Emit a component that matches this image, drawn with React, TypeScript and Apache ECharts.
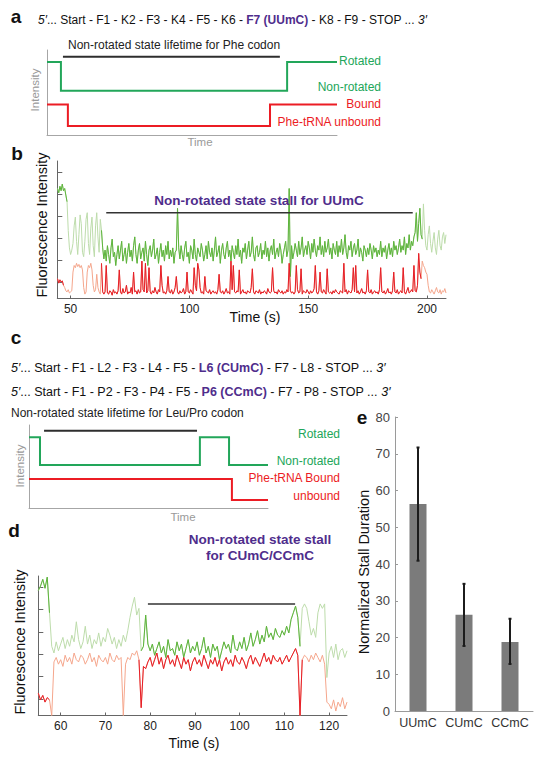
import React, { useEffect, useRef } from "react";
import * as echarts from "echarts";

const FONT = "'Liberation Sans', Arial, Helvetica, sans-serif";
const PURPLE = "#4f2d8c";
const GREEN_S = "#22a65a";
const RED_S = "#ec1c24";
const DG = "#5db43c";
const LG = "#bddcab";
const DR = "#e61e28";
const LR = "#f5a68c";

// ---------- panel a schematic ----------
const aRotX = [0, 4.8, 4.8, 82.8, 82.8, 100];
const aRotY = [86, 86, 52, 52, 86, 86];
const aBoundX = [0, 7.2, 7.2, 76.9, 76.9, 100];
const aBoundY = [36, 36, 10.6, 10.6, 36, 36];
const aLifeX = [5.5, 80.3];
const aLifeY = [92, 92];

// ---------- panel b trace (t from 44.5 s, step 0.5 s) ----------
const bT0 = 44.5;
const bDt = 0.5;
const bGreen = [
  5.0, 4.8, 5.1, 4.9, 5.2, 4.9, 5.0, 4.7, 4.4, 3.1,
  2.3, 2.0, 2.2, 2.5, 3.3, 3.7, 2.6, 2.0, 2.9, 3.8,
  3.4, 2.1, 1.9, 2.6, 3.6, 3.9, 2.5, 2.0, 3.2, 3.7,
  2.4, 1.9, 3.3, 3.9, 2.8, 2.1, 3.6, 3.1, 2.3, 1.8,
  2.2, 1.7, 2.4, 2.0, 1.6, 2.3, 2.7, 1.9, 2.1, 1.5,
  2.0, 2.4, 1.8, 2.2, 2.6, 1.7, 2.0, 2.3, 1.6, 2.1,
  2.5, 1.9, 2.2, 1.7, 2.4, 2.8, 2.0, 1.6, 2.2, 2.5,
  1.8, 2.1, 2.3, 1.7, 2.6, 2.0, 1.5, 2.2, 2.4, 1.9,
  2.2, 2.7, 1.8, 2.0, 2.3, 1.6, 2.1, 2.5, 1.9, 2.2,
  1.7, 2.4, 2.0, 2.6, 1.8, 2.2, 1.9, 2.3, 1.6, 2.1,
  2.2, 4.1, 2.3, 1.8, 2.4, 2.0, 1.7, 2.3, 2.6, 1.9,
  2.1, 1.6, 2.4, 2.2, 1.8, 2.7, 2.0, 1.7, 2.3, 2.1,
  1.9, 2.5, 2.2, 1.7, 2.0, 2.4, 1.8, 2.6, 2.1, 1.9,
  2.3, 1.7, 2.2, 2.8, 1.9, 2.1, 2.4, 1.6, 2.2, 2.5,
  2.0, 1.8, 2.3, 2.6, 1.9, 2.2, 1.7, 2.4, 2.1, 1.8,
  2.4, 2.0, 2.7, 1.9, 2.2, 1.6, 2.3, 2.1, 2.5, 1.8,
  2.2, 2.6, 1.9, 2.1, 2.8, 2.0, 1.7, 2.3, 2.4, 1.9,
  2.1, 2.5, 1.8, 2.2, 2.0, 2.6, 1.9, 2.3, 1.7, 2.2,
  2.4, 2.0, 2.7, 1.8, 2.1, 2.3, 1.9, 2.5, 2.2, 1.6,
  2.0, 2.3, 2.6, 1.9, 2.2, 5.0, 1.0, 2.4, 1.8, 2.1,
  2.5, 2.2, 1.9, 2.6, 2.0, 2.3, 2.8, 1.9, 2.2, 2.4,
  2.0, 2.6, 2.3, 1.8, 2.5, 2.1, 2.7, 2.2, 1.9, 2.4,
  2.2, 2.8, 2.0, 2.4, 1.9, 2.6, 2.1, 2.3, 2.7, 2.0,
  2.3, 1.8, 2.5, 2.2, 2.0, 2.6, 1.9, 2.4, 2.1, 2.7,
  2.0, 2.3, 2.9, 2.1, 1.8, 2.4, 2.2, 2.6, 1.9, 2.3,
  2.5, 2.0, 2.2, 2.7, 1.9, 2.3, 2.1, 1.7, 2.4, 2.2,
  1.9, 2.3, 2.0, 2.5, 2.2, 1.8, 2.4, 2.1, 2.3, 1.9,
  2.2, 2.0, 2.6, 1.9, 2.3, 2.1, 2.4, 1.8, 2.2, 2.5,
  2.0, 2.3, 1.9, 2.6, 2.2, 2.4, 2.0, 2.3, 2.7, 2.1,
  2.4, 2.2, 2.8, 2.0, 2.5, 2.3, 2.9, 2.2, 2.6, 2.4,
  2.8, 3.0, 3.9, 2.6, 3.4, 4.1, 2.9, 2.7, 4.3, 3.1,
  2.4, 2.2, 2.9, 3.3, 2.5, 2.1, 2.6, 3.0, 2.3, 2.0,
  2.7, 3.1, 2.4, 2.2, 2.8, 3.0, 2.5, 2.9,
];
const bRed = [
  0.9, 0.7, 0.85, 0.75, 0.8, 0.6, 0.5, 0.35, 0.3, 0.4,
  0.25, 0.3, 0.35, 1.2, 1.5, 1.4, 1.6, 1.45, 1.55, 1.4,
  1.5, 1.3, 0.5, 0.2, 0.3, 1.2, 1.5, 1.4, 1.6, 1.3,
  0.6, 0.3, 0.4, 1.1, 0.5, 0.3, 0.2, 1.6, 0.3, 0.2,
  0.3, 1.5, 0.25, 0.2, 0.35, 0.3, 0.15, 0.4, 0.25, 0.3,
  0.2, 0.35, 1.3, 0.3, 0.2, 0.45, 0.25, 0.3, 0.6, 0.2,
  0.3, 0.25, 0.5, 0.2, 1.2, 0.3, 0.35, 0.2, 0.4, 0.25,
  0.3, 1.7, 0.4, 0.3, 1.6, 0.25, 0.35, 1.4, 0.3, 0.2,
  0.35, 0.25, 0.5, 0.3, 0.2, 0.4, 0.3, 1.5, 0.6, 0.25,
  0.3, 0.2, 0.35, 1.0, 0.3, 0.25, 0.4, 0.2, 0.3, 0.5,
  1.0, 0.3, 0.2, 0.35, 0.25, 0.3, 0.45, 0.2, 0.3, 1.2,
  0.3, 0.25, 0.4, 0.3, 0.2, 1.4, 0.6, 0.35, 1.6, 1.3,
  0.5, 0.25, 0.3, 0.2, 1.0, 0.35, 0.3, 0.25, 0.4, 0.2,
  0.3, 0.35, 0.25, 0.3, 0.2, 0.4, 1.1, 0.3, 0.25, 0.35,
  0.2, 0.3, 0.45, 0.25, 0.3, 0.2, 1.7, 0.4, 1.5, 0.3,
  0.25, 0.35, 0.3, 1.3, 0.2, 0.3, 0.4, 0.25, 0.3, 0.2,
  0.35, 0.3, 0.25, 0.5, 1.35, 0.3, 0.2, 0.35, 0.3, 0.25,
  0.4, 0.2, 0.3, 0.25, 0.35, 0.3, 0.2, 0.45, 0.3, 0.25,
  0.3, 1.4, 0.35, 0.25, 0.3, 0.2, 0.4, 0.3, 0.25, 0.35,
  0.2, 0.3, 0.25, 0.4, 0.3, 1.6, 0.35, 0.25, 0.3, 0.2,
  0.3, 1.5, 0.4, 0.25, 0.3, 1.35, 0.2, 0.35, 0.3, 0.25,
  0.4, 0.3, 0.2, 0.35, 0.25, 0.3, 0.45, 1.5, 0.3, 0.2,
  0.35, 1.2, 0.3, 0.25, 0.4, 0.3, 0.2, 1.35, 0.3, 0.25,
  0.3, 0.2, 0.35, 0.25, 0.4, 0.3, 0.25, 0.2, 0.35, 0.3,
  0.25, 1.6, 0.3, 0.4, 0.2, 0.35, 0.3, 0.25, 0.4, 1.4,
  0.3, 1.5, 0.25, 0.35, 0.2, 0.3, 0.45, 0.25, 0.3, 0.2,
  0.35, 1.3, 0.3, 0.25, 0.4, 0.2, 0.3, 0.35, 0.25, 0.3,
  0.2, 0.4, 1.4, 0.3, 0.25, 0.35, 0.2, 0.3, 0.45, 0.25,
  0.3, 0.2, 0.35, 1.2, 0.3, 0.25, 0.4, 0.2, 0.3, 0.35,
  0.25, 1.4, 0.3, 0.2, 0.35, 0.5, 0.25, 0.3, 0.4, 0.3,
  1.5, 0.35, 0.3, 0.6, 2.05, 1.2, 0.9, 1.7, 1.5, 1.4,
  1.2, 1.1, 0.6, 0.3, 0.25, 0.4, 0.3, 0.2, 0.35, 0.5,
  0.3, 0.25, 0.4, 0.2, 0.35, 0.3, 0.45, 0.25,
];
const bGreenDark = [[44.5, 48.5], [63, 198]];
const bRedDark = [[44.5, 47], [63, 197.5]];
const bTimeTicks = [50, 100, 150, 200];
const bStallX = [65, 194];
const bStallY = [3.9, 3.9];

// ---------- panel c schematic ----------
const cRotX = [0, 4.6, 4.6, 71.5, 71.5, 83.7, 83.7, 100];
const cRotY = [85.3, 85.3, 51.8, 51.8, 85.3, 85.3, 51.8, 51.8];
const cBoundX = [0, 84.9, 84.9, 100];
const cBoundY = [34.9, 34.9, 9.6, 9.6];
const cLifeX = [6.3, 70.3];
const cLifeY = [93, 93];

// ---------- panel d trace (t from 55 s, step 0.5 s) ----------
const dT0 = 55;
const dDt = 0.5;
const dGreen = [
  5.6, 5.8, 6.1, 5.7, 6.2, 4.6, 3.1, 2.8, 3.3, 2.9,
  3.2, 3.5, 3.0, 3.4, 3.1, 3.6, 3.3, 4.2, 3.4, 3.0,
  3.3, 4.0, 3.2, 3.6, 3.0, 3.4, 3.2, 3.7, 3.1, 3.5,
  3.3, 3.9, 3.6, 3.2, 3.5, 3.0, 3.4, 3.1, 3.6, 3.3,
  3.8, 4.4, 4.9, 5.3, 4.5, 4.8, 2.9, 3.1, 4.5, 3.2,
  2.9, 3.2, 2.7, 3.0, 3.3, 2.8, 3.1, 2.6, 3.4, 2.9,
  3.0, 2.7, 3.3, 2.9, 3.2, 2.6, 3.0, 3.4, 2.8, 3.1,
  2.9, 3.3, 2.7, 3.0, 3.5, 2.8, 3.1, 2.6, 3.2, 2.9,
  3.1, 2.5, 2.9, 3.3, 3.0, 3.2, 2.8, 3.6, 3.0, 2.9,
  3.3, 3.0, 3.5, 2.9, 3.2, 3.7, 3.1, 3.4, 3.8, 3.2,
  3.6, 3.3, 4.0, 3.5, 3.7, 3.4, 3.9, 3.6, 3.5, 3.8,
  3.6, 4.0, 3.7, 4.3, 4.6, 4.9, 4.4, 3.1, 4.8, 5.0,
  4.8, 4.2, 3.6, 3.9, 3.5, 4.6, 5.0, 4.8, 5.0, 1.7,
  2.8, 3.1, 2.6, 3.2, 2.5, 2.9, 3.0, 2.6, 2.9,
];
const dRed = [
  1.0, 0.7, 0.9, 0.6, 0.8, 0.7, 0.0, 2.4, 2.6, 2.3,
  2.5, 2.2, 2.7, 2.4, 2.6, 2.3, 2.8, 2.5, 2.4, 2.7,
  2.6, 2.3, 2.5, 2.8, 2.4, 2.6, 2.2, 2.7, 2.5, 2.4,
  2.6, 2.3, 2.8, 2.5, 2.4, 2.7, 2.5, 2.6, 0.0, 2.3,
  2.6, 2.5, 2.8, 2.7, 2.9, 2.5, 0.35, 2.2, 2.1, 2.4,
  2.6, 2.2, 2.5, 2.8, 2.3, 2.6, 2.1, 2.5, 2.7, 2.3,
  2.5, 2.2, 2.7, 2.4, 2.1, 2.6, 2.3, 2.5, 2.0, 2.4,
  2.6, 2.3, 2.5, 2.2, 2.7, 2.4, 2.1, 2.5, 2.3, 2.6,
  2.2, 2.5, 2.0, 2.4, 2.6, 2.3, 2.5, 2.2, 2.7, 2.4,
  2.3, 2.6, 2.4, 2.1, 2.5, 2.7, 2.3, 2.6, 2.4, 2.2,
  2.5, 2.8, 2.4, 2.6, 2.3, 2.7, 2.5, 2.4, 2.6, 2.3,
  2.5, 2.7, 2.4, 2.6, 2.8, 3.0, 2.7, 0.0, 2.5, 2.7,
  2.6, 2.4, 2.7, 2.5, 2.8, 2.6, 2.4, 2.7, 2.3, 0.6,
  0.5, 0.3, 0.7, 0.2, 0.6, 0.4, 0.8, 0.3, 0.6,
];
const dGreenDark = [[55, 57.5], [78, 113.5]];
const dRedDark = [[55, 57.5], [77.5, 114]];
const dTimeTicks = [60, 70, 80, 90, 100, 110, 120];
const dStallX = [79.5, 112.4];
const dStallY = [5.0, 5.0];

const traceYTicks = [0.75, 1.75, 2.75, 3.75, 4.75, 5.75];

// ---------- panel e ----------
const eCategories = ["UUmC", "CUmC", "CCmC"];
const eMeans = [56.3, 26.2, 18.8];
const eLow = [40.9, 17.7, 12.8];
const eHigh = [71.7, 34.6, 25.1];

function pairs(t0: number, dt: number, vals: number[]) {
  return vals.map((v, i) => [Math.round((t0 + i * dt) * 100) / 100, v]);
}
function segs(p: number[][], ranges: number[][]) {
  return ranges.map(([a, b]) => p.filter(([t]) => t >= a - 1e-6 && t <= b + 1e-6));
}
function zip(xs: number[], ys: number[]) {
  return xs.map((x, i) => [x, ys[i]]);
}
function line(data: number[][], color: string, idx: number, width: number, z = 2) {
  return {
    type: "line",
    xAxisIndex: idx,
    yAxisIndex: idx,
    data,
    symbol: "none",
    showSymbol: false,
    silent: true,
    z,
    lineStyle: { color, width, cap: "butt", join: "miter" },
  };
}
function txt(x: number, y: number, text: string, o: any = {}) {
  return {
    type: "text",
    x,
    y,
    rotation: o.rot || 0,
    silent: true,
    z: 100,
    style: {
      text,
      x: 0,
      y: 0,
      fill: o.fill || "#111",
      fontSize: o.size || 12,
      fontWeight: o.weight || "normal",
      fontStyle: o.style || "normal",
      fontFamily: FONT,
      align: o.align || "left",
      textAlign: o.align || "left",
      verticalAlign: "middle",
      textVerticalAlign: "middle",
      rich: o.rich,
    },
  };
}
function richStyles(size: number) {
  return {
    n: { fontSize: size, fontFamily: FONT, fill: "#111", color: "#111" },
    i: { fontSize: size, fontFamily: FONT, fontStyle: "italic", fill: "#111", color: "#111" },
    p: { fontSize: size, fontFamily: FONT, fontWeight: "bold", fill: PURPLE, color: PURPLE },
  };
}

function schemAxes(idx: number) {
  const common = {
    gridIndex: idx,
    type: "value",
    min: 0,
    max: 100,
    axisLine: { show: true, onZero: false, lineStyle: { color: "#a6a6a6", width: 1 } },
    axisTick: { show: false },
    axisLabel: { show: false },
    splitLine: { show: false },
  };
  return { x: { ...common }, y: { ...common } };
}
function traceX(idx: number, min: number, max: number, ticks: number[]) {
  return {
    gridIndex: idx,
    type: "value",
    min,
    max,
    axisLine: { show: true, onZero: false, lineStyle: { color: "#666", width: 1 } },
    axisTick: { show: true, inside: true, length: 3, customValues: ticks, lineStyle: { color: "#666" } },
    axisLabel: { show: true, customValues: ticks, fontSize: 12, color: "#222", margin: 4, fontFamily: FONT },
    splitLine: { show: false },
  };
}
function traceY(idx: number) {
  return {
    gridIndex: idx,
    type: "value",
    min: 0,
    max: 6.25,
    axisLine: { show: true, onZero: false, lineStyle: { color: "#666", width: 1 } },
    axisTick: { show: true, inside: true, length: 5, customValues: traceYTicks, lineStyle: { color: "#666" } },
    axisLabel: { show: false },
    splitLine: { show: false },
  };
}

function buildOption() {
  const gridBase = { containLabel: false, outerBoundsMode: "none", show: false };
  const aAx = schemAxes(0);
  const cAx = schemAxes(2);

  const bG = pairs(bT0, bDt, bGreen);
  const bR = pairs(bT0, bDt, bRed);
  const dG = pairs(dT0, dDt, dGreen);
  const dR = pairs(dT0, dDt, dRed);

  const series: any[] = [
    // a
    line(zip(aRotX, aRotY), GREEN_S, 0, 2),
    line(zip(aBoundX, aBoundY), RED_S, 0, 2),
    line(zip(aLifeX, aLifeY), "#2e2e2e", 0, 2),
    // b
    line(bG, LG, 1, 1, 2),
    line(bR, LR, 1, 1, 3),
    ...segs(bG, bGreenDark).map((s) => line(s, DG, 1, 1, 4)),
    ...segs(bR, bRedDark).map((s) => line(s, DR, 1, 1, 5)),
    line(zip(bStallX, bStallY), "#333", 1, 1.5, 6),
    // c
    line(zip(cRotX, cRotY), GREEN_S, 2, 2),
    line(zip(cBoundX, cBoundY), RED_S, 2, 2),
    line(zip(cLifeX, cLifeY), "#2e2e2e", 2, 2),
    // d
    line(dG, LG, 3, 1, 2),
    line(dR, LR, 3, 1, 3),
    ...segs(dG, dGreenDark).map((s) => line(s, DG, 3, 1, 4)),
    ...segs(dR, dRedDark).map((s) => line(s, DR, 3, 1, 5)),
    line(zip(dStallX, dStallY), "#333", 3, 1.5, 6),
    // e
    {
      type: "bar",
      xAxisIndex: 4,
      yAxisIndex: 4,
      data: eMeans,
      barWidth: 17,
      silent: true,
      itemStyle: { color: "#7b7b7b" },
    },
    {
      type: "custom",
      xAxisIndex: 4,
      yAxisIndex: 4,
      silent: true,
      z: 10,
      data: eCategories.map((c, i) => [i, eLow[i], eHigh[i]]),
      encode: { x: 0, y: [1, 2] },
      renderItem: (params: any, api: any) => {
        const lo = api.coord([api.value(0), api.value(1)]);
        const hi = api.coord([api.value(0), api.value(2)]);
        const st = { stroke: "#1c1c1c", lineWidth: 2 };
        return {
          type: "group",
          children: [
            { type: "line", shape: { x1: lo[0], y1: lo[1], x2: hi[0], y2: hi[1] }, style: st },
            { type: "line", shape: { x1: lo[0] - 1.5, y1: lo[1], x2: lo[0] + 1.5, y2: lo[1] }, style: st },
            { type: "line", shape: { x1: hi[0] - 1.5, y1: hi[1], x2: hi[0] + 1.5, y2: hi[1] }, style: st },
          ],
        };
      },
    },
  ];

  const graphic: any[] = [
    // panel letters
    txt(16, 16, "a", { size: 19, weight: "bold", align: "center" }),
    txt(17, 153, "b", { size: 19, weight: "bold", align: "center" }),
    txt(16, 337, "c", { size: 19, weight: "bold", align: "center" }),
    txt(14, 530, "d", { size: 19, weight: "bold", align: "center" }),
    txt(362, 417, "e", { size: 19, weight: "bold", align: "center" }),
    // a
    txt(38, 20, "{i|5′}{n|... Start - F1 - K2 - F3 - K4 - F5 - K6 - }{p|F7 (UUmC)}{n| - K8 - F9 - STOP ... }{i|3′}", {
      size: 12,
      rich: richStyles(12),
    }),
    txt(68, 45, "Non-rotated state lifetime for Phe codon", { size: 12, fill: "#222" }),
    txt(381, 61, "Rotated", { size: 12, fill: GREEN_S, align: "right" }),
    txt(381, 87, "Non-rotated", { size: 12, fill: GREEN_S, align: "right" }),
    txt(381, 104, "Bound", { size: 12, fill: RED_S, align: "right" }),
    txt(381, 122, "Phe-tRNA unbound", { size: 12, fill: RED_S, align: "right" }),
    txt(35, 90, "Intensity", { size: 11.5, fill: "#9a9a9a", align: "center", rot: Math.PI / 2 }),
    txt(200, 142, "Time", { size: 11.5, fill: "#9a9a9a", align: "center" }),
    // b
    txt(42, 225, "Fluorescence Intensity", { size: 14.5, align: "center", rot: Math.PI / 2 }),
    txt(259, 200, "Non-rotated state stall for UUmC", { size: 13.5, weight: "bold", fill: PURPLE, align: "center" }),
    txt(255, 317, "Time (s)", { size: 14, align: "center" }),
    // c
    txt(11, 368, "{i|5′}{n|... Start - F1 - L2 - F3 - L4 - F5 - }{p|L6 (CUmC)}{n| - F7 - L8 - STOP ... }{i|3′}", {
      size: 12.5,
      rich: richStyles(12.5),
    }),
    txt(11, 392, "{i|5′}{n|... Start - F1 - P2 - F3 - P4 - F5 - }{p|P6 (CCmC)}{n| - F7 - P8 - STOP ... }{i|3′}", {
      size: 12.5,
      rich: richStyles(12.5),
    }),
    txt(11, 413, "Non-rotated state lifetime for Leu/Pro codon", { size: 12, fill: "#222" }),
    txt(340, 434, "Rotated", { size: 12, fill: GREEN_S, align: "right" }),
    txt(340, 461, "Non-rotated", { size: 12, fill: GREEN_S, align: "right" }),
    txt(340, 478, "Phe-tRNA Bound", { size: 12, fill: RED_S, align: "right" }),
    txt(340, 496, "unbound", { size: 12, fill: RED_S, align: "right" }),
    txt(20, 466, "Intensity", { size: 11.5, fill: "#9a9a9a", align: "center", rot: Math.PI / 2 }),
    txt(183, 517, "Time", { size: 11.5, fill: "#9a9a9a", align: "center" }),
    // d
    txt(260, 539, "Non-rotated state stall", { size: 13.5, weight: "bold", fill: PURPLE, align: "center" }),
    txt(260, 555, "for CUmC/CCmC", { size: 13.5, weight: "bold", fill: PURPLE, align: "center" }),
    txt(20, 642, "Fluorescence Intensity", { size: 14.5, align: "center", rot: Math.PI / 2 }),
    txt(194, 743, "Time (s)", { size: 14, align: "center" }),
    // e
    txt(364, 572, "Normalized Stall Duration", { size: 14.5, align: "center", rot: Math.PI / 2 }),
  ];

  return {
    animation: false,
    backgroundColor: "#ffffff",
    textStyle: { fontFamily: FONT },
    grid: [
      { ...gridBase, left: 47, top: 50, width: 290, height: 85 },
      { ...gridBase, left: 57.3, top: 161, width: 388.7, height: 137.5 },
      { ...gridBase, left: 29, top: 425, width: 239, height: 83 },
      { ...gridBase, left: 38.3, top: 576, width: 308.7, height: 139.5 },
      { ...gridBase, left: 395, top: 417, width: 138, height: 294 },
    ],
    xAxis: [
      aAx.x,
      traceX(1, 44.4, 208, bTimeTicks),
      cAx.x,
      traceX(3, 55, 124, dTimeTicks),
      {
        gridIndex: 4,
        type: "category",
        data: eCategories,
        axisLine: { show: true, lineStyle: { color: "#9a9a9a", width: 1 } },
        axisTick: { show: false },
        axisLabel: { interval: 0, hideOverlap: false, fontSize: 12.5, color: "#333", margin: 5, fontFamily: FONT },
        splitLine: { show: false },
      },
    ],
    yAxis: [
      aAx.y,
      traceY(1),
      cAx.y,
      traceY(3),
      {
        gridIndex: 4,
        type: "value",
        min: 0,
        max: 80,
        interval: 10,
        axisLine: { show: true, onZero: false, lineStyle: { color: "#9a9a9a", width: 1 } },
        axisTick: { show: true, inside: true, length: 3, lineStyle: { color: "#9a9a9a" } },
        axisLabel: { fontSize: 13, color: "#444", margin: 5, fontFamily: FONT },
        splitLine: { show: false },
      },
    ],
    series,
    graphic,
  };
}

export default function App() {
  const ref = useRef<HTMLDivElement>(null);
  useEffect(() => {
    if (!ref.current) return;
    const chart = echarts.init(ref.current, null, { renderer: "svg" });
    chart.setOption(buildOption() as any);
    return () => {
      chart.dispose();
    };
  }, []);
  return (
    <div
      ref={ref}
      style={{ position: "absolute", left: 0, top: 0, width: 542, height: 760, background: "#fff" }}
    />
  );
}
